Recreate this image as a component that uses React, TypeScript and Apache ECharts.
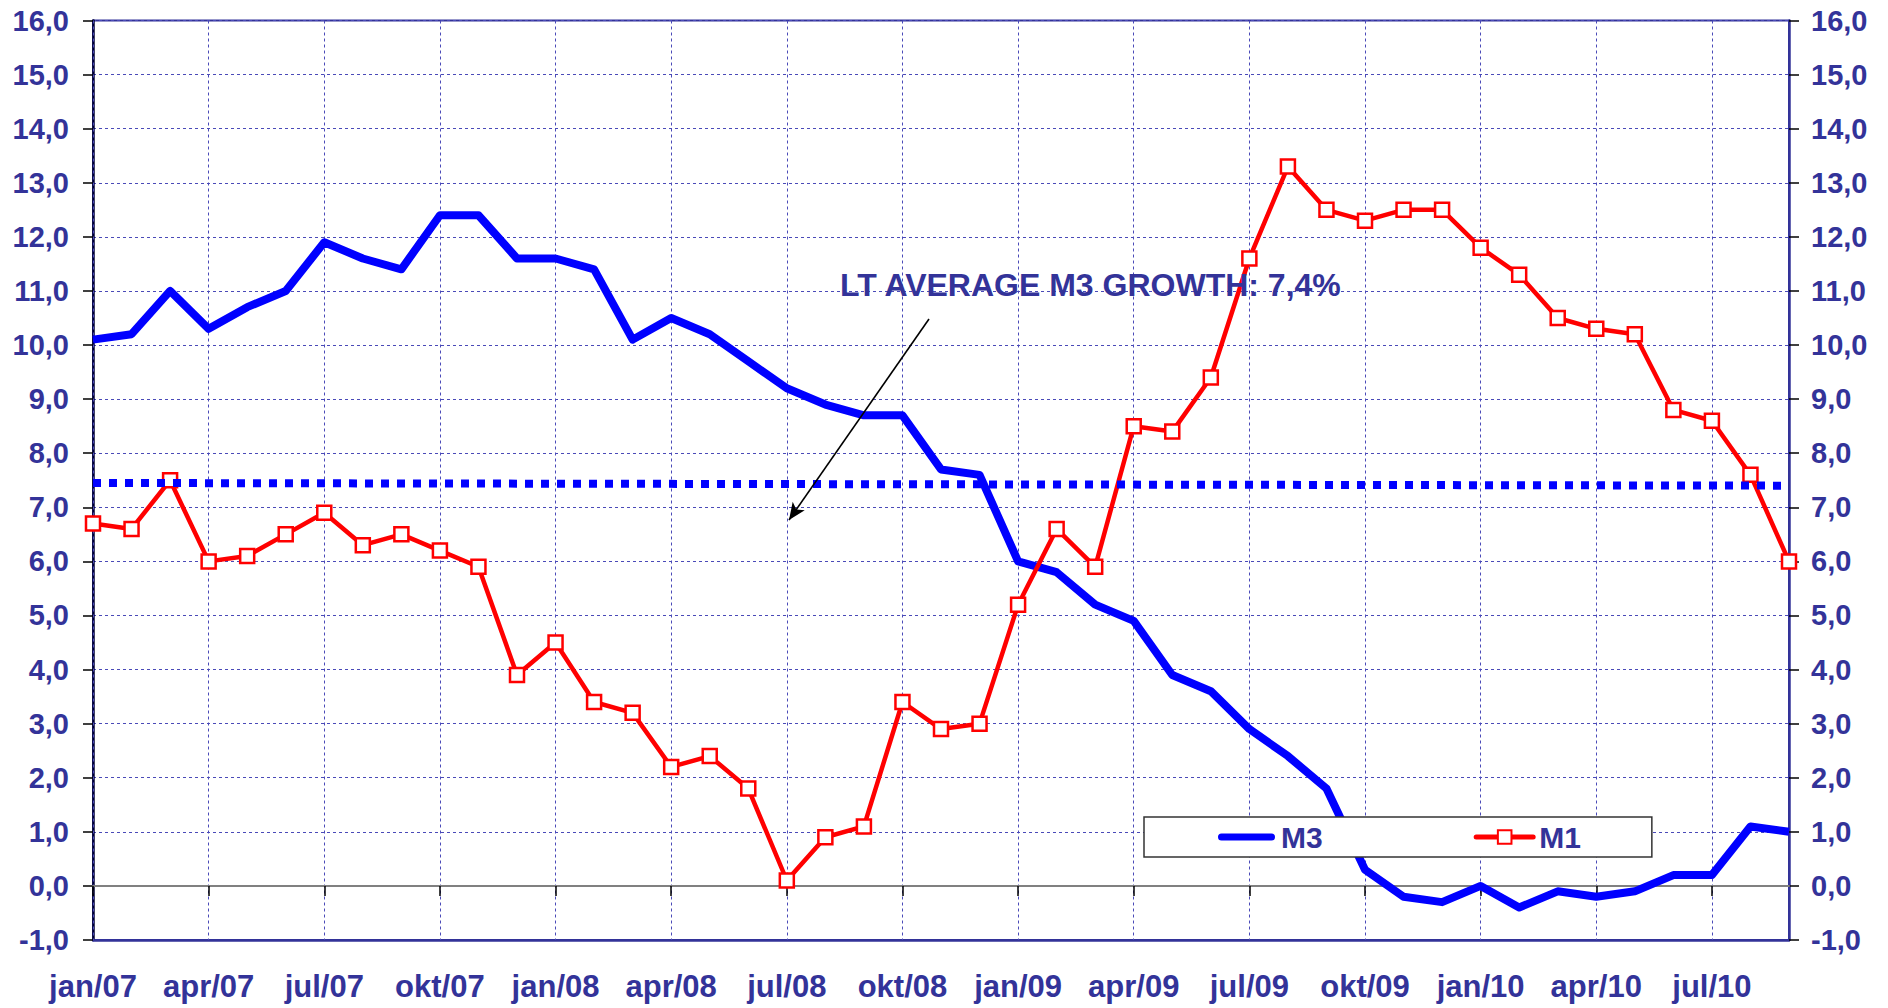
import React, { useEffect, useRef } from "react";
import * as echarts from "echarts";

const categories = [
  "jan/07", "feb/07", "mar/07", "apr/07", "mai/07", "jun/07", "jul/07", "aug/07", "sep/07", "okt/07", "nov/07", "des/07",
  "jan/08", "feb/08", "mar/08", "apr/08", "mai/08", "jun/08", "jul/08", "aug/08", "sep/08", "okt/08", "nov/08", "des/08",
  "jan/09", "feb/09", "mar/09", "apr/09", "mai/09", "jun/09", "jul/09", "aug/09", "sep/09", "okt/09", "nov/09", "des/09",
  "jan/10", "feb/10", "mar/10", "apr/10", "mai/10", "jun/10", "jul/10", "aug/10", "sep/10",
];

const m3 = [
  10.1, 10.2, 11.0, 10.3, 10.7, 11.0, 11.9, 11.6, 11.4, 12.4, 12.4, 11.6,
  11.6, 11.4, 10.1, 10.5, 10.2, 9.7, 9.2, 8.9, 8.7, 8.7, 7.7, 7.6,
  6.0, 5.8, 5.2, 4.9, 3.9, 3.6, 2.9, 2.4, 1.8, 0.3, -0.2, -0.3,
  0.0, -0.4, -0.1, -0.2, -0.1, 0.2, 0.2, 1.1, 1.0,
];

const m1 = [
  6.7, 6.6, 7.5, 6.0, 6.1, 6.5, 6.9, 6.3, 6.5, 6.2, 5.9, 3.9,
  4.5, 3.4, 3.2, 2.2, 2.4, 1.8, 0.1, 0.9, 1.1, 3.4, 2.9, 3.0,
  5.2, 6.6, 5.9, 8.5, 8.4, 9.4, 11.6, 13.3, 12.5, 12.3, 12.5, 12.5,
  11.8, 11.3, 10.5, 10.3, 10.2, 8.8, 8.6, 7.6, 6.0,
];

// long-term average M3 growth line (start value, end value)
const avgLine = [7.45, 7.4];
const annotationText = "LT AVERAGE M3 GROWTH: 7,4%";

const NAVY = "#333399";
const FONT = "'Liberation Sans', Arial, sans-serif";

export default function App() {
  const ref = useRef<HTMLDivElement>(null);

  useEffect(() => {
    if (!ref.current) return;
    const chart = echarts.init(ref.current, null, { renderer: "svg" });
    const fmt = (v: number) => v.toFixed(1).replace(".", ",");
    const gridLine = { show: true, lineStyle: { color: "#4a4ab8", width: 1, type: [3, 3] as any } };

    chart.setOption({
      animation: false,
      backgroundColor: "#ffffff",
      textStyle: { fontFamily: FONT },
      grid: {
        left: 93,
        right: 99,
        top: 20.5,
        bottom: 68,
        show: true,
        borderColor: NAVY,
        borderWidth: 2,
        backgroundColor: "transparent",
        containLabel: false,
        outerBoundsMode: "none",
      },
      legend: {
        left: 1144,
        top: 817,
        orient: "horizontal",
        data: [
          { name: "M3", icon: "path://M3.5,0 L53.5,0 A3.5,3.5 0 0 1 53.5,7 L3.5,7 A3.5,3.5 0 0 1 3.5,0 Z" },
          { name: "M1", lineStyle: { width: 5, color: "#ff0000", cap: "round" } },
        ],
        itemWidth: 57,
        itemHeight: 17,
        itemGap: 151,
        padding: [4, 71, 4, 74],
        borderColor: "#333333",
        borderWidth: 1.5,
        backgroundColor: "#ffffff",
        lineStyle: { width: 5 },
        textStyle: { fontFamily: FONT, fontSize: 30, fontWeight: "bold", color: NAVY, lineHeight: 32, padding: [0, 0, 0, 1] },
      },
      xAxis: [
        {
          type: "category",
          data: categories,
          boundaryGap: false,
          position: "bottom",
          axisLine: { show: true, onZero: true, lineStyle: { color: "#808080", width: 2 } },
          axisTick: { show: true, interval: 2, length: 10, lineStyle: { color: "#000000", width: 1.5 } },
          axisLabel: { show: false },
          splitLine: { ...gridLine, interval: 2 },
          z: 3,
        },
        {
          type: "category",
          data: categories,
          boundaryGap: false,
          position: "bottom",
          axisLine: { show: true, onZero: false, lineStyle: { color: NAVY, width: 2.5 } },
          axisTick: { show: false },
          axisLabel: {
            show: true,
            interval: 2,
            margin: 31,
            fontSize: 31,
            fontWeight: "bold",
            fontFamily: FONT,
            color: NAVY,
          },
          splitLine: { show: false },
        },
      ],
      yAxis: [
        {
          type: "value",
          position: "left",
          min: -1,
          max: 16,
          interval: 1,
          axisLine: { show: true, lineStyle: { color: "#000033", width: 2.5 } },
          axisTick: { show: true, length: 10, lineStyle: { color: "#000000", width: 1.5 } },
          axisLabel: { formatter: fmt, margin: 24, fontSize: 29, fontWeight: "bold", fontFamily: FONT, color: NAVY },
          splitLine: gridLine,
        },
        {
          type: "value",
          position: "right",
          min: -1,
          max: 16,
          interval: 1,
          axisLine: { show: true, lineStyle: { color: NAVY, width: 2.5 } },
          axisTick: { show: true, length: 10, lineStyle: { color: "#000000", width: 1.5 } },
          axisLabel: { formatter: fmt, margin: 22, fontSize: 29, fontWeight: "bold", fontFamily: FONT, color: NAVY },
          splitLine: { show: false },
        },
      ],
      series: [
        {
          name: "M3",
          type: "line",
          data: m3,
          xAxisIndex: 0,
          yAxisIndex: 0,
          symbol: "none",
          lineStyle: { color: "#0000ff", width: 8, join: "round" },
          itemStyle: { color: "#0000ff" },
          z: 3,
          markLine: {
            silent: true,
            symbol: ["none", "none"],
            label: { show: false },
            lineStyle: { color: "#0000ff", width: 8, type: [8, 8], cap: "butt" },
            data: [[{ coord: [categories[0], avgLine[0]] }, { coord: [categories[categories.length - 1], avgLine[1]] }]],
          },
        },
        {
          name: "M1",
          type: "line",
          data: m1,
          xAxisIndex: 0,
          yAxisIndex: 0,
          symbol: "rect",
          symbolSize: 14,
          showAllSymbol: true,
          lineStyle: { color: "#ff0000", width: 4.5 },
          itemStyle: { color: "#ffffff", borderColor: "#ff0000", borderWidth: 2.5 },
          z: 4,
        },
        {
          name: "arrow",
          type: "line",
          data: [],
          xAxisIndex: 0,
          yAxisIndex: 0,
          z: 6,
          markLine: {
            silent: true,
            symbol: ["none", "arrow"],
            symbolSize: [11, 17],
            label: { show: false },
            lineStyle: { color: "#000000", width: 1.6, type: "solid" },
            data: [[{ x: 929, y: 319 }, { x: 789, y: 520 }]],
          },
        },
      ],
      graphic: [
        {
          type: "text",
          x: 840,
          y: 285,
          z: 10,
          style: {
            text: annotationText,
            fontFamily: FONT,
            fontSize: 32,
            fontWeight: "bold",
            fill: NAVY,
            align: "left",
            verticalAlign: "middle",
          },
        },
      ],
    });

    return () => chart.dispose();
  }, []);

  return (
    <div
      ref={ref}
      style={{ position: "absolute", left: 0, top: 0, width: 1888, height: 1008, background: "#fff" }}
    />
  );
}
